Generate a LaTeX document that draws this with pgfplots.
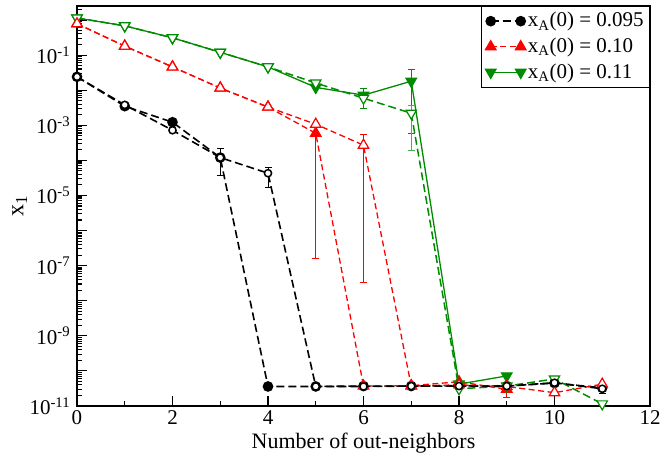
\documentclass[border=0pt]{standalone}
\usepackage{fontspec}
\setmainfont{Liberation Serif}
\usepackage{pgfplots}
\pgfplotsset{compat=1.18}
\definecolor{ggreen}{RGB}{0,139,0}
\begin{document}
\fontsize{20bp}{24bp}\selectfont
\begin{tikzpicture}
\path[use as bounding box] (-77bp,-48bp) rectangle (583bp,406bp);
\begin{axis}[
  scale only axis, width=573bp, height=400bp,
  at={(0,0)}, anchor=south west,
  ymode=log, xmin=0, xmax=12, ymin=1e-11, ymax=2.5,
  clip mode=individual,
  xtick={0,2,4,6,8,10,12}, minor xtick={1,3,5,7,9,11},
  ytick={1e-11,1e-10,1e-9,1e-8,1e-7,1e-6,1e-5,1e-4,1e-3,1e-2,1e-1,1},
  yticklabels={10\textsuperscript{-11},{},10\textsuperscript{-9},{},10\textsuperscript{-7},{},10\textsuperscript{-5},{},10\textsuperscript{-3},{},10\textsuperscript{-1},{}},
  minor ytick={2e-11,3e-11,4e-11,5e-11,6e-11,7e-11,8e-11,9e-11,
    2e-10,3e-10,4e-10,5e-10,6e-10,7e-10,8e-10,9e-10,
    2e-9,3e-9,4e-9,5e-9,6e-9,7e-9,8e-9,9e-9,
    2e-8,3e-8,4e-8,5e-8,6e-8,7e-8,8e-8,9e-8,
    2e-7,3e-7,4e-7,5e-7,6e-7,7e-7,8e-7,9e-7,
    2e-6,3e-6,4e-6,5e-6,6e-6,7e-6,8e-6,9e-6,
    2e-5,3e-5,4e-5,5e-5,6e-5,7e-5,8e-5,9e-5,
    2e-4,3e-4,4e-4,5e-4,6e-4,7e-4,8e-4,9e-4,
    2e-3,3e-3,4e-3,5e-3,6e-3,7e-3,8e-3,9e-3,
    2e-2,3e-2,4e-2,5e-2,6e-2,7e-2,8e-2,9e-2,
    0.2,0.3,0.4,0.5,0.6,0.7,0.8,0.9,2},
  tick align=inside, xtick pos=bottom, ytick pos=left,
  major tick length=10bp, minor tick length=5bp,
  axis line style={line width=1.5bp},
  tick style={line width=1.1bp, black},
  /pgf/number format/assume math mode=true,
  ticklabel style={font=\fontsize{21bp}{25bp}\selectfont},
  xticklabel style={yshift=2.5bp},
  xlabel={Number of out-neighbors},
  ylabel={x\textsubscript{1}},
  xlabel style={font=\fontsize{22bp}{26bp}\selectfont, at={(axis description cs:0.5,0)}, anchor=center, yshift=-37.5bp},
  ylabel style={font=\fontsize{24bp}{28bp}\selectfont, at={(axis description cs:-0.1,0.5)}, anchor=center},
  legend style={at={(1,1)}, anchor=north east, draw=black, line width=0.8bp,
    font=\fontsize{21bp}{25bp}\selectfont, row sep=4bp, inner sep=4bp},
  legend cell align=left,
  legend image code/.code={\draw plot coordinates {(0bp,0bp) (30bp,0bp)};},
]
% ---- filled series (legend) ----
\addplot[black, line width=1.6bp, dash pattern=on 8bp off 4bp, mark=*, mark size=4.5bp, mark options={solid, fill=black}]
 coordinates {(0,0.024) (1,3.5e-3) (2,1.22e-3) (3,1.2e-4) (4,3.6e-11) (5,3.6e-11) (6,3.7e-11) (7,3.7e-11) (8,3.8e-11) (9,3.7e-11) (10,4.5e-11) (11,3.3e-11)};
\addlegendentry{x\textsubscript{A}(0) = 0.095}
\addplot[red, line width=1.3bp, dash pattern=on 6bp off 3.5bp, mark=triangle*, mark size=6bp, mark options={solid, fill=red}]
 coordinates {(0,0.78) (1,0.18) (2,0.046) (3,0.0115) (4,3.3e-3) (5,5.9e-4) (6,3.7e-11) (7,3.8e-11) (8,4.9e-11) (9,3.0e-11)};
\addlegendentry{x\textsubscript{A}(0) = 0.10}
\addplot[ggreen, line width=1.3bp, mark=triangle*, mark size=6bp, mark options={solid, fill=ggreen, rotate=180}]
 coordinates {(0,1.14) (1,0.68) (2,0.31) (3,0.12) (4,0.046) (5,0.012) (6,7.2e-3) (7,0.018) (8,4.2e-11) (9,7.2e-11)};
\addlegendentry{x\textsubscript{A}(0) = 0.11}
% ---- error bars ----
\addplot[red, line width=1bp, mark=-, mark size=3.5bp, forget plot] coordinates {(5,5.9e-4) (5,1.6e-7)};
\addplot[red, line width=1bp, mark=-, mark size=3.5bp, forget plot] coordinates {(6,5.5e-4) (6,3.2e-8)};
\addplot[red, line width=1bp, mark=-, mark size=3.5bp, forget plot] coordinates {(9,3.0e-11) (9,1.7e-11)};
\addplot[ggreen, line width=1bp, mark=-, mark size=3.5bp, forget plot] coordinates {(7,0.04) (7,6e-4)};
\addplot[ggreen!70, line width=1bp, mark=-, mark size=3.5bp, forget plot] coordinates {(7,3.7e-3) (7,1.9e-4)};
\addplot[ggreen, line width=1bp, mark=-, mark size=3.5bp, forget plot] coordinates {(6,0.0115) (6,3.1e-3)};
\addplot[black, line width=1bp, mark=-, mark size=3.5bp, forget plot] coordinates {(3,2.2e-4) (3,3.7e-5)};
\addplot[black, line width=1bp, mark=-, mark size=3.5bp, forget plot] coordinates {(4,6.3e-5) (4,1.7e-5)};
\addplot[black, line width=1bp, mark=-, mark size=3.5bp, forget plot] coordinates {(11,4.3e-11) (11,2.2e-11)};
% ---- open series ----
\addplot[ggreen, line width=1.5bp, dash pattern=on 8bp off 4bp, mark=triangle*, mark size=6bp, mark options={solid, fill=white, rotate=180, line width=1.2bp}, forget plot]
 coordinates {(0,1.14) (1,0.68) (2,0.31) (3,0.12) (4,0.046) (5,0.016) (6,5.9e-3) (7,2.2e-3) (8,3.1e-11) (9,3.7e-11) (10,5.9e-11) (11,1.15e-11)};
\addplot[red, line width=1.3bp, dash pattern=on 6bp off 3.5bp, mark=triangle*, mark size=6bp, mark options={solid, fill=white, line width=1.2bp}, forget plot]
 coordinates {(0,0.78) (1,0.18) (2,0.046) (3,0.0115) (4,3.3e-3) (5,1.07e-3) (6,2.7e-4) (7,3.7e-11) (8,4.0e-11) (9,3.6e-11) (10,2.4e-11) (11,4.2e-11)};
\addplot[black, line width=1.6bp, dash pattern=on 8bp off 4bp, mark=*, mark size=3.6bp, mark options={solid, fill=white, line width=1.5bp}, forget plot]
 coordinates {(0,0.024) (1,3.8e-3) (2,7.2e-4) (3,1.2e-4) (4,4.3e-5) (5,3.6e-11) (6,3.6e-11) (7,3.7e-11) (8,3.7e-11) (9,3.7e-11) (10,4.6e-11) (11,3.1e-11)};
\end{axis}
\end{tikzpicture}
\end{document}
